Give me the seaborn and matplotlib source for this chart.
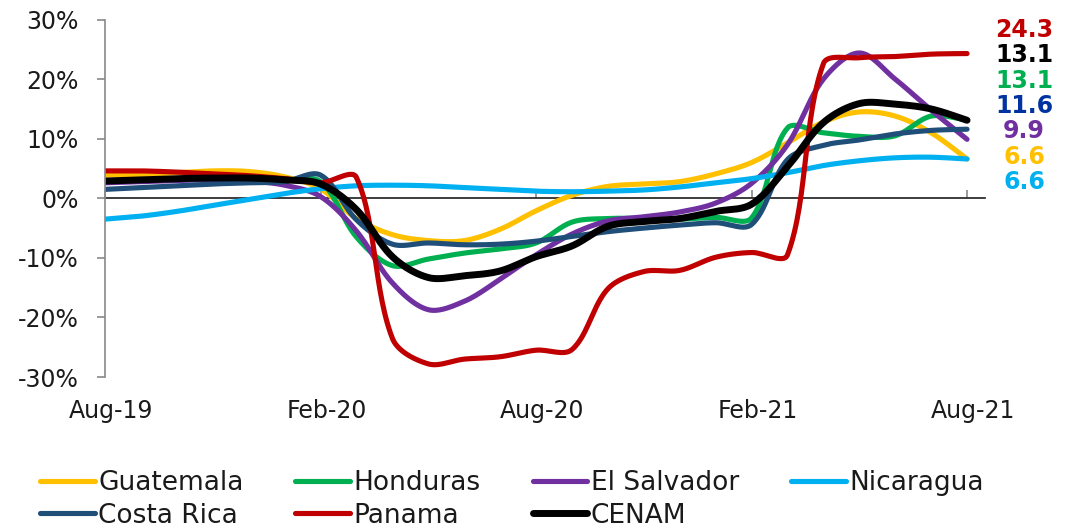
import numpy as np
import pandas as pd
import matplotlib
matplotlib.use("Agg")
import matplotlib.pyplot as plt
import matplotlib.transforms as mtransforms
import seaborn as sns
from matplotlib.lines import Line2D

# Monthly year-on-year growth (%), Aug-2019 .. Aug-2021
months = pd.date_range("2019-08-01", "2021-08-01", freq="MS")

guatemala = [3.9, 4.0, 4.3, 4.6, 4.5, 3.6, 1.6, -3.4, -6.1, -7.1, -7.1, -5.2, -2.1,
             0.5, 2.0, 2.4, 2.8, 4.1, 6.0, 9.3, 12.8, 14.5, 13.8, 11.0, 6.6]
honduras = [2.8, 3.0, 3.2, 3.3, 3.3, 3.0, 2.8, -6.5, -11.3, -10.2, -9.2, -8.5, -7.5,
            -4.0, -3.4, -3.4, -3.5, -3.2, -3.3, 11.8, 11.0, 10.4, 10.5, 13.8, 13.1]
el_salvador = [2.6, 2.8, 3.0, 3.1, 2.9, 2.2, 0.3, -5.5, -14.2, -18.7, -17.3, -13.6, -9.5,
               -6.0, -3.8, -3.1, -2.3, -0.8, 2.5, 9.0, 20.0, 24.4, 20.0, 14.8, 9.9]
nicaragua = [-3.5, -3.0, -2.2, -1.2, -0.2, 0.8, 1.6, 2.1, 2.2, 2.1, 1.8, 1.5, 1.2,
             1.1, 1.2, 1.4, 1.9, 2.6, 3.3, 4.3, 5.5, 6.3, 6.8, 6.9, 6.6]
costa_rica = [1.5, 1.8, 2.1, 2.4, 2.6, 2.8, 3.9, -3.6, -7.7, -7.5, -7.8, -7.7, -7.2,
              -6.4, -5.6, -5.0, -4.5, -4.1, -4.4, 6.5, 8.9, 9.8, 10.8, 11.4, 11.6]
panama = [4.6, 4.6, 4.4, 4.1, 3.8, 3.3, 2.6, 3.5, -23.5, -27.8, -27.0, -26.6, -25.5,
          -25.4, -15.2, -12.3, -12.1, -9.9, -9.1, -9.5, 22.6, 23.6, 23.8, 24.2, 24.3]
cenam = [2.9, 3.1, 3.3, 3.4, 3.4, 3.1, 2.4, -1.9, -9.8, -13.3, -13.0, -12.2, -9.8,
         -8.0, -4.7, -3.9, -3.4, -2.2, -1.0, 5.3, 12.7, 15.9, 15.8, 15.0, 13.1]

series_names = ["Guatemala", "Honduras", "El Salvador", "Nicaragua",
                "Costa Rica", "Panama", "CENAM"]
series_values = [guatemala, honduras, el_salvador, nicaragua, costa_rica, panama, cenam]
line_colors = ["#FFC000", "#00B050", "#7030A0", "#00B0F0", "#1F4E79", "#C00000", "#000000"]
line_widths = [3.7, 3.7, 3.7, 3.7, 3.7, 3.7, 5.0]

# End-of-period labels on the right, top to bottom
end_label_order = ["Panama", "CENAM", "Honduras", "Costa Rica", "El Salvador",
                   "Guatemala", "Nicaragua"]
end_label_colors = ["#C00000", "#000000", "#00B050", "#0033A0", "#7030A0",
                    "#FFC000", "#00B0F0"]

tick_labels = ["Aug-19", "Feb-20", "Aug-20", "Feb-21", "Aug-21"]
y_ticks = [-30, -20, -10, 0, 10, 20, 30]


def smooth(y, samples=30, sx=35.9, sy=5.96):
    """Bezier smoothing through the monthly points, with control arms scaled
    by the neighbouring chord lengths (measured in screen units)."""
    y = np.asarray(y, dtype=float)
    n = len(y)
    P = np.column_stack([np.arange(n) * sx, y * sy])
    d = np.linalg.norm(np.diff(P, axis=0), axis=1)
    c_out = np.empty_like(P)
    c_in = np.empty_like(P)
    for i in range(n):
        if i == 0:
            c_out[i] = P[0] + (P[1] - P[0]) / 6.0
            continue
        if i == n - 1:
            c_in[i] = P[-1] - (P[-1] - P[-2]) / 6.0
            continue
        T = P[i + 1] - P[i - 1]
        total = d[i - 1] + d[i]
        c_out[i] = P[i] + T * d[i] / total / 3.0
        c_in[i] = P[i] - T * d[i - 1] / total / 3.0
    pts = []
    for i in range(n - 1):
        t = np.linspace(0, 1, samples, endpoint=(i == n - 2))[:, None]
        b = ((1 - t) ** 3 * P[i] + 3 * (1 - t) ** 2 * t * c_out[i]
             + 3 * (1 - t) * t ** 2 * c_in[i + 1] + t ** 3 * P[i + 1])
        pts.append(b)
    pts = np.vstack(pts)
    return pts[:, 0] / sx, pts[:, 1] / sy


frames = []
for name, vals in zip(series_names, series_values):
    cx, cy = smooth(vals)
    frames.append(pd.DataFrame({"month": cx, "growth": cy, "country": name}))
curves = pd.concat(frames, ignore_index=True)

sns.set_theme(style="white")
plt.rcParams["font.family"] = ["DejaVu Sans"]

fig = plt.figure(figsize=(10.76, 5.29), dpi=100)
ax = fig.add_axes([105 / 1076, 1 - 377 / 529, 880 / 1076, 357.4 / 529])

for name, color, lw in zip(series_names, line_colors, line_widths):
    sns.lineplot(data=curves[curves["country"] == name], x="month", y="growth",
                 color=color, linewidth=lw, sort=False, estimator=None,
                 legend=False, ax=ax, solid_capstyle="round")

ax.set_xlim(0, 24.5)
ax.set_ylim(-30, 30)
ax.set_xlabel("")
ax.set_ylabel("")

grey = "#898989"
for side in ["top", "right", "bottom"]:
    ax.spines[side].set_visible(False)
ax.spines["left"].set_color(grey)
ax.spines["left"].set_linewidth(1.2)

ax.set_yticks(y_ticks)
ax.set_yticklabels([f"{v}%" for v in y_ticks])
ax.tick_params(axis="y", which="major", direction="out", length=6, width=1.2,
               color=grey, pad=13, labelsize=17, labelcolor="#1a1a1a", left=True)

tick_pos = [months.get_loc(pd.to_datetime(lbl, format="%b-%y")) for lbl in tick_labels]
ax.set_xticks(tick_pos)
ax.set_xticklabels(tick_labels)
ax.tick_params(axis="x", which="major", length=0, pad=16, labelsize=17,
               labelcolor="#1a1a1a")
shift = mtransforms.ScaledTranslation(6 / 100, 0, fig.dpi_scale_trans)
for lab in ax.get_xticklabels():
    lab.set_transform(lab.get_transform() + shift)

# horizontal axis line through zero with its tick marks
zero_axis = ax.secondary_xaxis(0.5)
zero_axis.set_xticks(tick_pos)
zero_axis.set_xticklabels([])
zero_axis.tick_params(direction="out", length=6, width=1.2, color=grey)
zero_axis.spines["bottom"].set_color(grey)
zero_axis.spines["bottom"].set_linewidth(1.2)

# end values on the right
last_values = dict(zip(series_names, [v[-1] for v in series_values]))
y0 = 1 - 30 / 529
step = 25.3 / 529
for k, (name, col) in enumerate(zip(end_label_order, end_label_colors)):
    fig.text(1024 / 1076, y0 - k * step, f"{last_values[name]:.1f}", color=col,
             fontsize=17, fontweight="bold", ha="center", va="center")

# legend laid out row by row (4 columns)
handles = {name: Line2D([0], [0], color=c, linewidth=lw, solid_capstyle="round")
           for name, c, lw in zip(series_names, line_colors, line_widths)}
legend_order = ["Guatemala", "Costa Rica", "Honduras", "Panama",
                "El Salvador", "CENAM", "Nicaragua"]
fig.legend([handles[n] for n in legend_order], legend_order,
           loc="upper left", bbox_to_anchor=(40 / 1076, 1 - 470 / 529),
           ncol=4, frameon=False, fontsize=19, handlelength=2.08,
           handletextpad=0.12, columnspacing=1.97, labelspacing=0.25,
           borderpad=0, borderaxespad=0, labelcolor="#1a1a1a")

fig.savefig("out.png", dpi=100)
